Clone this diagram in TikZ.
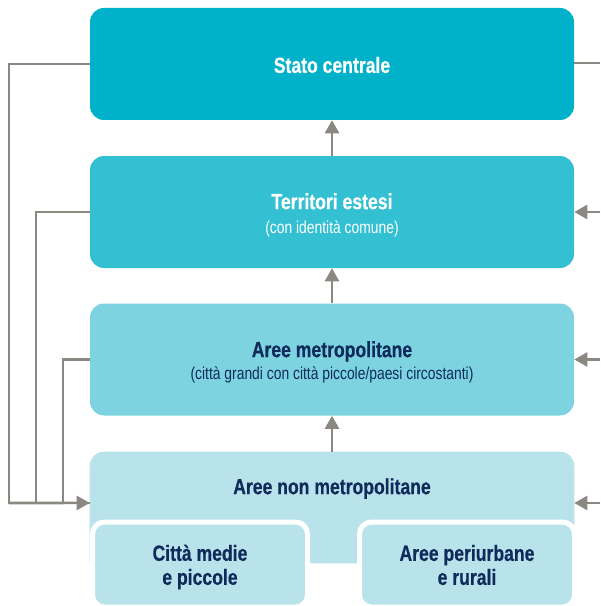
\documentclass[tikz,border=0pt]{standalone}
\usepackage{fontspec}
\setmainfont[FakeStretch=0.8, BoldFeatures={FakeBold=0.4}]{Liberation Sans}
\usetikzlibrary{arrows.meta}
\definecolor{lvA}{HTML}{00B2C9}
\definecolor{lvB}{HTML}{33C0D3}
\definecolor{lvC}{HTML}{7DD3DF}
\definecolor{lvD}{HTML}{B9E3EA}
\definecolor{navy}{HTML}{0F2B5B}
\definecolor{link}{HTML}{8B8882}
\newcommand\subnote{\fontsize{13}{18}\selectfont\mdseries}
\tikzset{
  level/.style={rounded corners=10.5pt, minimum width=363pt, minimum height=84pt,
                inner sep=0pt},
  heading/.style={align=center, inner sep=0pt, font=\fontsize{16.5}{18}\selectfont\bfseries},
  subbox/.style={rounded corners=9pt, fill=lvD, draw=white, line width=3.75pt,
                 minimum width=161.25pt, minimum height=63.75pt},
  link/.style={draw=link, line width=1.9pt},
  flow/.style={link, -{Triangle[length=9.75pt, width=10.5pt]}},
}
\begin{document}
\begin{tikzpicture}[x=0.75pt, y=-0.75pt]
\useasboundingbox (0,0) rectangle (600,606);

% the four levels
\node[level, fill=lvA] (stato) at (332,64) {};
\node[level, fill=lvB] (terr) at (332,212) {};
\node[level, fill=lvC] (metro) at (332,359.5) {};
\node[level, minimum height=83.25pt] (nonmetro) at (332,507.5) {};
\fill[lvD, rounded corners=10.5pt] (nonmetro.south west) |- (nonmetro.north east) [sharp corners] -- (nonmetro.south east) -- cycle;

% their headings
\node[heading, text=white] (statotxt) at (332,65) {Stato centrale};
\node[heading, text=white] (terrtxt) at (332,215)
  {Territori estesi\\{\subnote (con identità comune)}};
\node[heading, text=navy] (metrotxt) at (332,362)
  {Aree metropolitane\\[-1.5pt]{\subnote (città grandi con città piccole/paesi circostanti)}};
\node[heading, text=navy] (nonmetrotxt) at (332,488.5) {Aree non metropolitane};

% the two kinds of non-metropolitan area
\node[subbox] (medie) at (200,564.5) {};
\node[subbox] (rurali) at (467,564.5) {};
\node[heading, text=navy] (medietxt) at (200,567) {Città medie\\e piccole};
\node[heading, text=navy] (ruralitxt) at (467,565) {Aree periurbane\\e rurali};

% upward flow between levels
\draw[flow] (terr.north) -- (stato.south);
\draw[flow] (metro.north) -- (terr.south);
\draw[flow] (nonmetro.north) -- (metro.south);

% left: every level feeds the non-metropolitan areas
\coordinate (inL) at ([yshift=3.4pt]nonmetro.west);
\draw[link] (stato.west) -- (9,64) |- (inL);
\draw[link] (terr.west) -- (36,212) -- (36,503);
\draw[link] (metro.west) -- (63,359.5) -- (63,503);
\draw[flow] (9,503) -- (inL);

% right: links coming in from the edge
\coordinate (outR) at (600,63);
\draw[link] (stato.east |- outR) -- (outR);
\coordinate (rB) at (600,212);
\coordinate (rC) at (600,359.5);
\coordinate (rD) at (600,503);
\draw[flow] (rB) -- (terr.east |- rB);
\draw[flow] (rC) -- (metro.east |- rC);
\draw[flow] (rD) -- (nonmetro.east |- rD);
\end{tikzpicture}
\end{document}
